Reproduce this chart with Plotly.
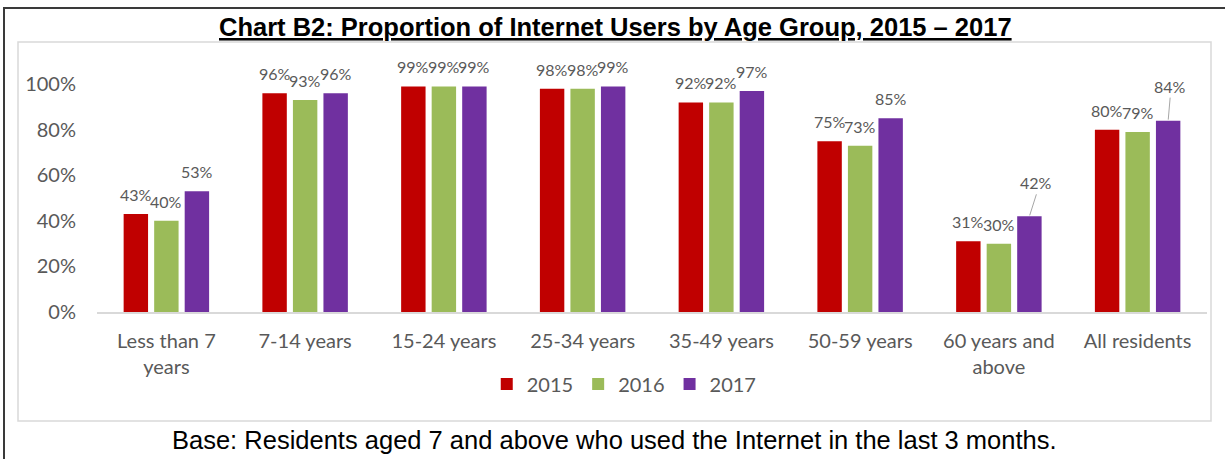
import plotly.graph_objects as go

categories = ["Less than 7<br>years", "7-14 years", "15-24 years", "25-34 years",
              "35-49 years", "50-59 years", "60 years and<br>above", "All residents"]
years = ["2015", "2016", "2017"]
v2015 = [43, 96, 99, 98, 92, 75, 31, 80]
v2016 = [40, 93, 99, 98, 92, 73, 30, 79]
v2017 = [53, 96, 99, 99, 97, 85, 42, 84]
colors = ["#C00000", "#9BBB59", "#7030A0"]
tick_vals = [0, 0.2, 0.4, 0.6, 0.8, 1.0]
tick_text = ["0%", "20%", "40%", "60%", "80%", "100%"]
# 2017 labels drawn with a leader line: category index -> (dx, dy) label offset in px
leader = {6: (7, -22), 7: (2, -23)}

W, H = 1225, 459
ML, MR, MT, MB = 97, 18, 50, 147
PW, PH = W - ML - MR, H - MT - MB
BARGAP, GROUPGAP = 0.34, 0.2
SLOT = PW / len(categories) * (1 - BARGAP) / 3


def px(x):
    return (x - ML) / PW


def py(y):
    return (H - MB - y) / PH


GREY = "#595959"
FONT = "Lato"
LABEL_FONT = dict(family=FONT, size=16, color=GREY)

fig = go.Figure()
series = [v2015, v2016, v2017]
for k, (name, vals) in enumerate(zip(years, series)):
    fig.add_trace(go.Bar(
        x=categories, y=[v / 100 for v in vals], name=name,
        marker=dict(color=colors[k], line=dict(width=0)),
        hoverinfo="skip",
    ))
    for i, v in enumerate(vals):
        if k == 2 and i in leader:
            dx, dy = leader[i]
            fig.add_annotation(
                x=categories[i], y=v / 100, xref="x", yref="y",
                text=f"{v}%", showarrow=True, arrowhead=0, arrowwidth=1,
                arrowcolor="#A6A6A6", ax=dx, ay=dy, xshift=(k - 1) * SLOT,
                font=LABEL_FONT, xanchor="center", yanchor="bottom", standoff=1,
            )
        else:
            fig.add_annotation(
                x=categories[i], y=v / 100, xref="x", yref="y",
                text=f"{v}%", showarrow=False, xshift=(k - 1) * SLOT, yshift=8,
                font=LABEL_FONT, xanchor="center", yanchor="bottom",
            )

# title and footnote
fig.add_annotation(
    x=px(615), y=py(27), xref="paper", yref="paper", showarrow=False,
    text="<b><u>Chart B2: Proportion of Internet Users by Age Group, 2015 – 2017</u></b>",
    font=dict(family="Liberation Sans", size=25.5, color="#000000"),
    xanchor="center", yanchor="middle",
)
fig.add_annotation(
    x=px(614), y=py(440), xref="paper", yref="paper", showarrow=False,
    text="Base: Residents aged 7 and above who used the Internet in the last 3 months.",
    font=dict(family="Liberation Sans", size=25.5, color="#000000"),
    xanchor="center", yanchor="middle",
)

# frames
fig.add_shape(type="rect", xref="paper", yref="paper",
              x0=px(18), x1=px(1211), y0=py(421), y1=py(42),
              line=dict(color="#D9D9D9", width=1.5), layer="below")
fig.add_shape(type="rect", xref="paper", yref="paper",
              x0=px(4), x1=px(1240), y0=py(480), y1=py(8),
              line=dict(color="#3A3A3A", width=2), layer="below")

fig.update_layout(
    width=W, height=H,
    margin=dict(l=ML, r=MR, t=MT, b=MB),
    paper_bgcolor="white", plot_bgcolor="white",
    barmode="group", bargap=BARGAP, bargroupgap=GROUPGAP,
    font=dict(family=FONT, color=GREY),
    legend=dict(orientation="h", x=0.475, xanchor="center", y=py(384),
                yanchor="middle", font=dict(family=FONT, size=20, color=GREY),
                itemwidth=30, traceorder="normal"),
    showlegend=True,
)
fig.update_xaxes(showline=True, linecolor="#D9D9D9", linewidth=1.5,
                 showgrid=False, ticks="", tickfont=dict(family=FONT, size=20, color=GREY),
                 ticklabelstandoff=10)
fig.update_yaxes(range=[0, 1.15], tickvals=tick_vals, ticktext=tick_text,
                 showgrid=False, zeroline=False, showline=False, ticks="",
                 tickfont=dict(family=FONT, size=20, color=GREY),
                 ticklabelstandoff=20)

fig.write_html("out.html", config={"displayModeBar": False},
               post_script="document.body.style.margin='0';")
